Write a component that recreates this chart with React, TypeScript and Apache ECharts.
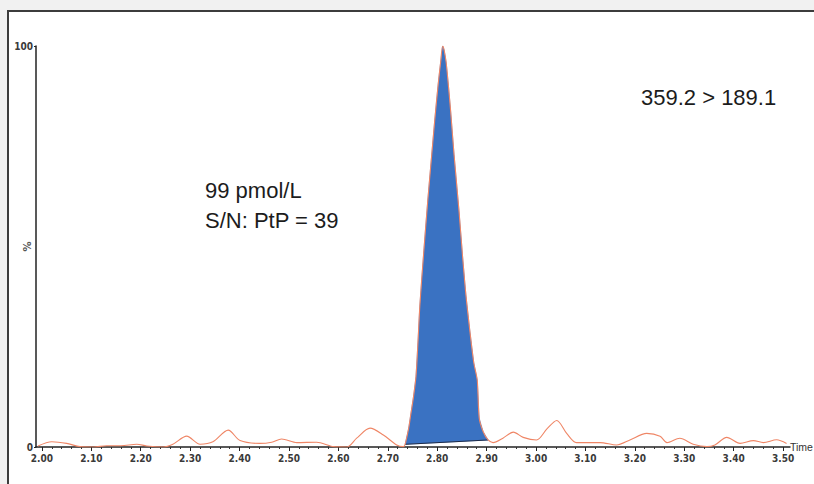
import React, { useEffect, useRef } from "react";
import * as echarts from "echarts";

// Chromatogram trace (time in min, intensity in %)
const traceTime = [
  1.992, 2.02, 2.05, 2.077, 2.104, 2.131, 2.16, 2.192, 2.212, 2.245, 2.265, 2.293, 2.32, 2.346, 2.377, 2.401,
  2.441, 2.465, 2.485, 2.516, 2.556, 2.59, 2.617, 2.637, 2.664, 2.691, 2.718, 2.731, 2.735, 2.742, 2.747, 2.752,
  2.757, 2.761, 2.765, 2.773, 2.781, 2.789, 2.795, 2.802, 2.807, 2.811, 2.814, 2.818, 2.822, 2.827, 2.834, 2.844,
  2.851, 2.858, 2.866, 2.874, 2.881, 2.885, 2.893, 2.903, 2.913, 2.933,
  2.954, 2.974, 3.001, 3.022, 3.042, 3.062, 3.082, 3.13, 3.163, 3.19, 3.224, 3.251, 3.265, 3.291, 3.318, 3.346,
  3.362, 3.386, 3.413, 3.44, 3.46, 3.487, 3.507,
];
const traceIntensity = [
  0.25, 1.3, 0.9, 0.1, 0, 0.3, 0.3, 0.7, 0.25, 0, 0.7, 2.7, 0.7, 1.3, 4.2, 1.6,
  0.9, 1.2, 2.0, 1.1, 1.2, 0.1, 0, 2.2, 4.7, 3.0, 0.5, 0.1, 0.67, 4.5, 8.5, 12.5,
  17.5, 26, 35.5, 49, 61.6, 73, 81.5, 90.5, 96, 100, 99, 96, 91, 84, 73, 59,
  48, 38, 29, 21, 16.7, 7.2, 3.8, 1.75, 1.1, 2.2,
  3.7, 2.4, 1.75, 4.5, 6.6, 3.4, 1.1, 1.1, 0.5, 1.75, 3.4, 2.7, 1.1, 2.2, 0.7, 0.1,
  0.5, 2.4, 0.9, 1.6, 1.1, 1.8, 0.9,
];

// Integrated peak limits
const peakStartTime = 2.735;
const peakEndTime = 2.903;

// Axis ticks
const xTickLabels = ["2.00", "2.10", "2.20", "2.30", "2.40", "2.50", "2.60", "2.70", "2.80", "2.90", "3.00", "3.10", "3.20", "3.30", "3.40", "3.50"];
const xMinorTicks = [
  2.02, 2.04, 2.06, 2.08, 2.12, 2.14, 2.16, 2.18, 2.22, 2.24, 2.26, 2.28, 2.32, 2.34, 2.36, 2.38,
  2.42, 2.44, 2.46, 2.48, 2.52, 2.54, 2.56, 2.58, 2.62, 2.64, 2.66, 2.68, 2.72, 2.74, 2.76, 2.78,
  2.82, 2.84, 2.86, 2.88, 2.92, 2.94, 2.96, 2.98, 3.02, 3.04, 3.06, 3.08, 3.12, 3.14, 3.16, 3.18,
  3.22, 3.24, 3.26, 3.28, 3.32, 3.34, 3.36, 3.38, 3.42, 3.44, 3.46, 3.48,
];
const yTickValues = [0, 100];

const xMin = 1.988;
const xMax = 3.514;

const annotationLeft = ["99 pmol/L", "S/N: PtP = 39"];
const annotationRight = "359.2 > 189.1";

export default function App() {
  const ref = useRef<HTMLDivElement>(null);

  useEffect(() => {
    if (!ref.current) return;
    const chart = echarts.init(ref.current, null, { renderer: "svg" });

    const tracePoints = traceTime.map((t, i) => [t, traceIntensity[i]]);
    const peakPoints = tracePoints.filter((p) => p[0] >= peakStartTime && p[0] <= peakEndTime);

    const labelFont = {
      fontFamily: "DejaVu Sans Condensed, DejaVu Sans",
      fontSize: 10,
      fontWeight: "bold" as const,
      color: "#3a3a3a",
    };
    const bigFont = '22px "Liberation Sans", Arial';

    chart.setOption({
      animation: false,
      backgroundColor: "#f1f1f1",
      grid: { left: 36, right: 24, top: 46, bottom: 37, containLabel: false, outerBoundsMode: "none" },
      xAxis: [
        {
          type: "value",
          min: xMin,
          max: xMax,
          position: "bottom",
          name: "Time",
          nameLocation: "end",
          nameGap: 0,
          nameTextStyle: { fontFamily: "Liberation Sans", fontSize: 10.5, color: "#333", verticalAlign: "middle", padding: [0, 0, 3, 0] },
          axisLine: { show: true, onZero: false, lineStyle: { color: "#222", width: 1.5 } },
          axisTick: { show: true, customValues: xTickLabels.map(Number), length: 4, lineStyle: { color: "#222", width: 1 } },
          axisLabel: {
            show: true,
            customValues: xTickLabels.map(Number),
            formatter: (v: number) => v.toFixed(2),
            margin: 6,
            ...labelFont,
          },
          splitLine: { show: false },
        },
        {
          type: "value",
          min: xMin,
          max: xMax,
          position: "bottom",
          axisLine: { show: false },
          axisTick: { show: true, customValues: xMinorTicks, length: 2, lineStyle: { color: "#333", width: 1 } },
          axisLabel: { show: false },
          splitLine: { show: false },
        },
      ],
      yAxis: {
        type: "value",
        min: 0,
        max: 100,
        name: "%",
        nameLocation: "middle",
        nameGap: 4,
        nameRotate: 90,
        nameMoveOverlap: false,
        nameTextStyle: { fontFamily: "DejaVu Sans", fontSize: 10, fontWeight: "bold", color: "#555" },
        axisLine: { show: true, lineStyle: { color: "#222", width: 1.5 } },
        axisTick: { show: true, customValues: yTickValues, length: 2, lineStyle: { color: "#222" } },
        axisLabel: { show: true, customValues: yTickValues, margin: 3, ...labelFont },
        splitLine: { show: false },
      },
      series: [
        {
          type: "custom",
          xAxisIndex: 0,
          z: 2,
          silent: true,
          data: peakPoints,
          encode: { x: 0, y: 1 },
          renderItem: (params: any, api: any) => {
            if (params.dataIndex !== 0) return null;
            const pts = peakPoints.map((p) => api.coord(p));
            const first = pts[0];
            const last = pts[pts.length - 1];
            return {
              type: "group",
              children: [
                {
                  type: "polygon",
                  shape: { points: pts },
                  style: { fill: "#3a72c2", stroke: "#3a72c2", lineWidth: 0.5 },
                },
                {
                  type: "line",
                  shape: { x1: first[0], y1: first[1], x2: last[0], y2: last[1] },
                  style: { stroke: "#1c2a48", lineWidth: 1 },
                },
              ],
            };
          },
        },
        {
          type: "line",
          xAxisIndex: 0,
          z: 3,
          data: tracePoints,
          showSymbol: false,
          smooth: 0.3,
          lineStyle: { color: "#ef8666", width: 1.1 },
        },
      ],
      graphic: [
        {
          type: "rect",
          z: -10,
          silent: true,
          shape: { x: 8, y: 11, width: 900, height: 600 },
          style: { fill: "#ffffff", stroke: "#3c3c3c", lineWidth: 2 },
        },
        {
          type: "text",
          x: 205,
          y: 190,
          silent: true,
          style: { text: annotationLeft[0], font: bigFont, fill: "#1c1c1c", verticalAlign: "middle" },
        },
        {
          type: "text",
          x: 205,
          y: 220,
          silent: true,
          style: { text: annotationLeft[1], font: bigFont, fill: "#1c1c1c", verticalAlign: "middle" },
        },
        {
          type: "text",
          x: 641,
          y: 97,
          silent: true,
          style: { text: annotationRight, font: bigFont, fill: "#1c1c1c", verticalAlign: "middle" },
        },
      ],
    });

    return () => chart.dispose();
  }, []);

  return (
    <div style={{ position: "fixed", left: 0, top: 0, width: 814, height: 484, overflow: "hidden" }}>
      <div ref={ref} style={{ width: 814, height: 484 }} />
    </div>
  );
}
